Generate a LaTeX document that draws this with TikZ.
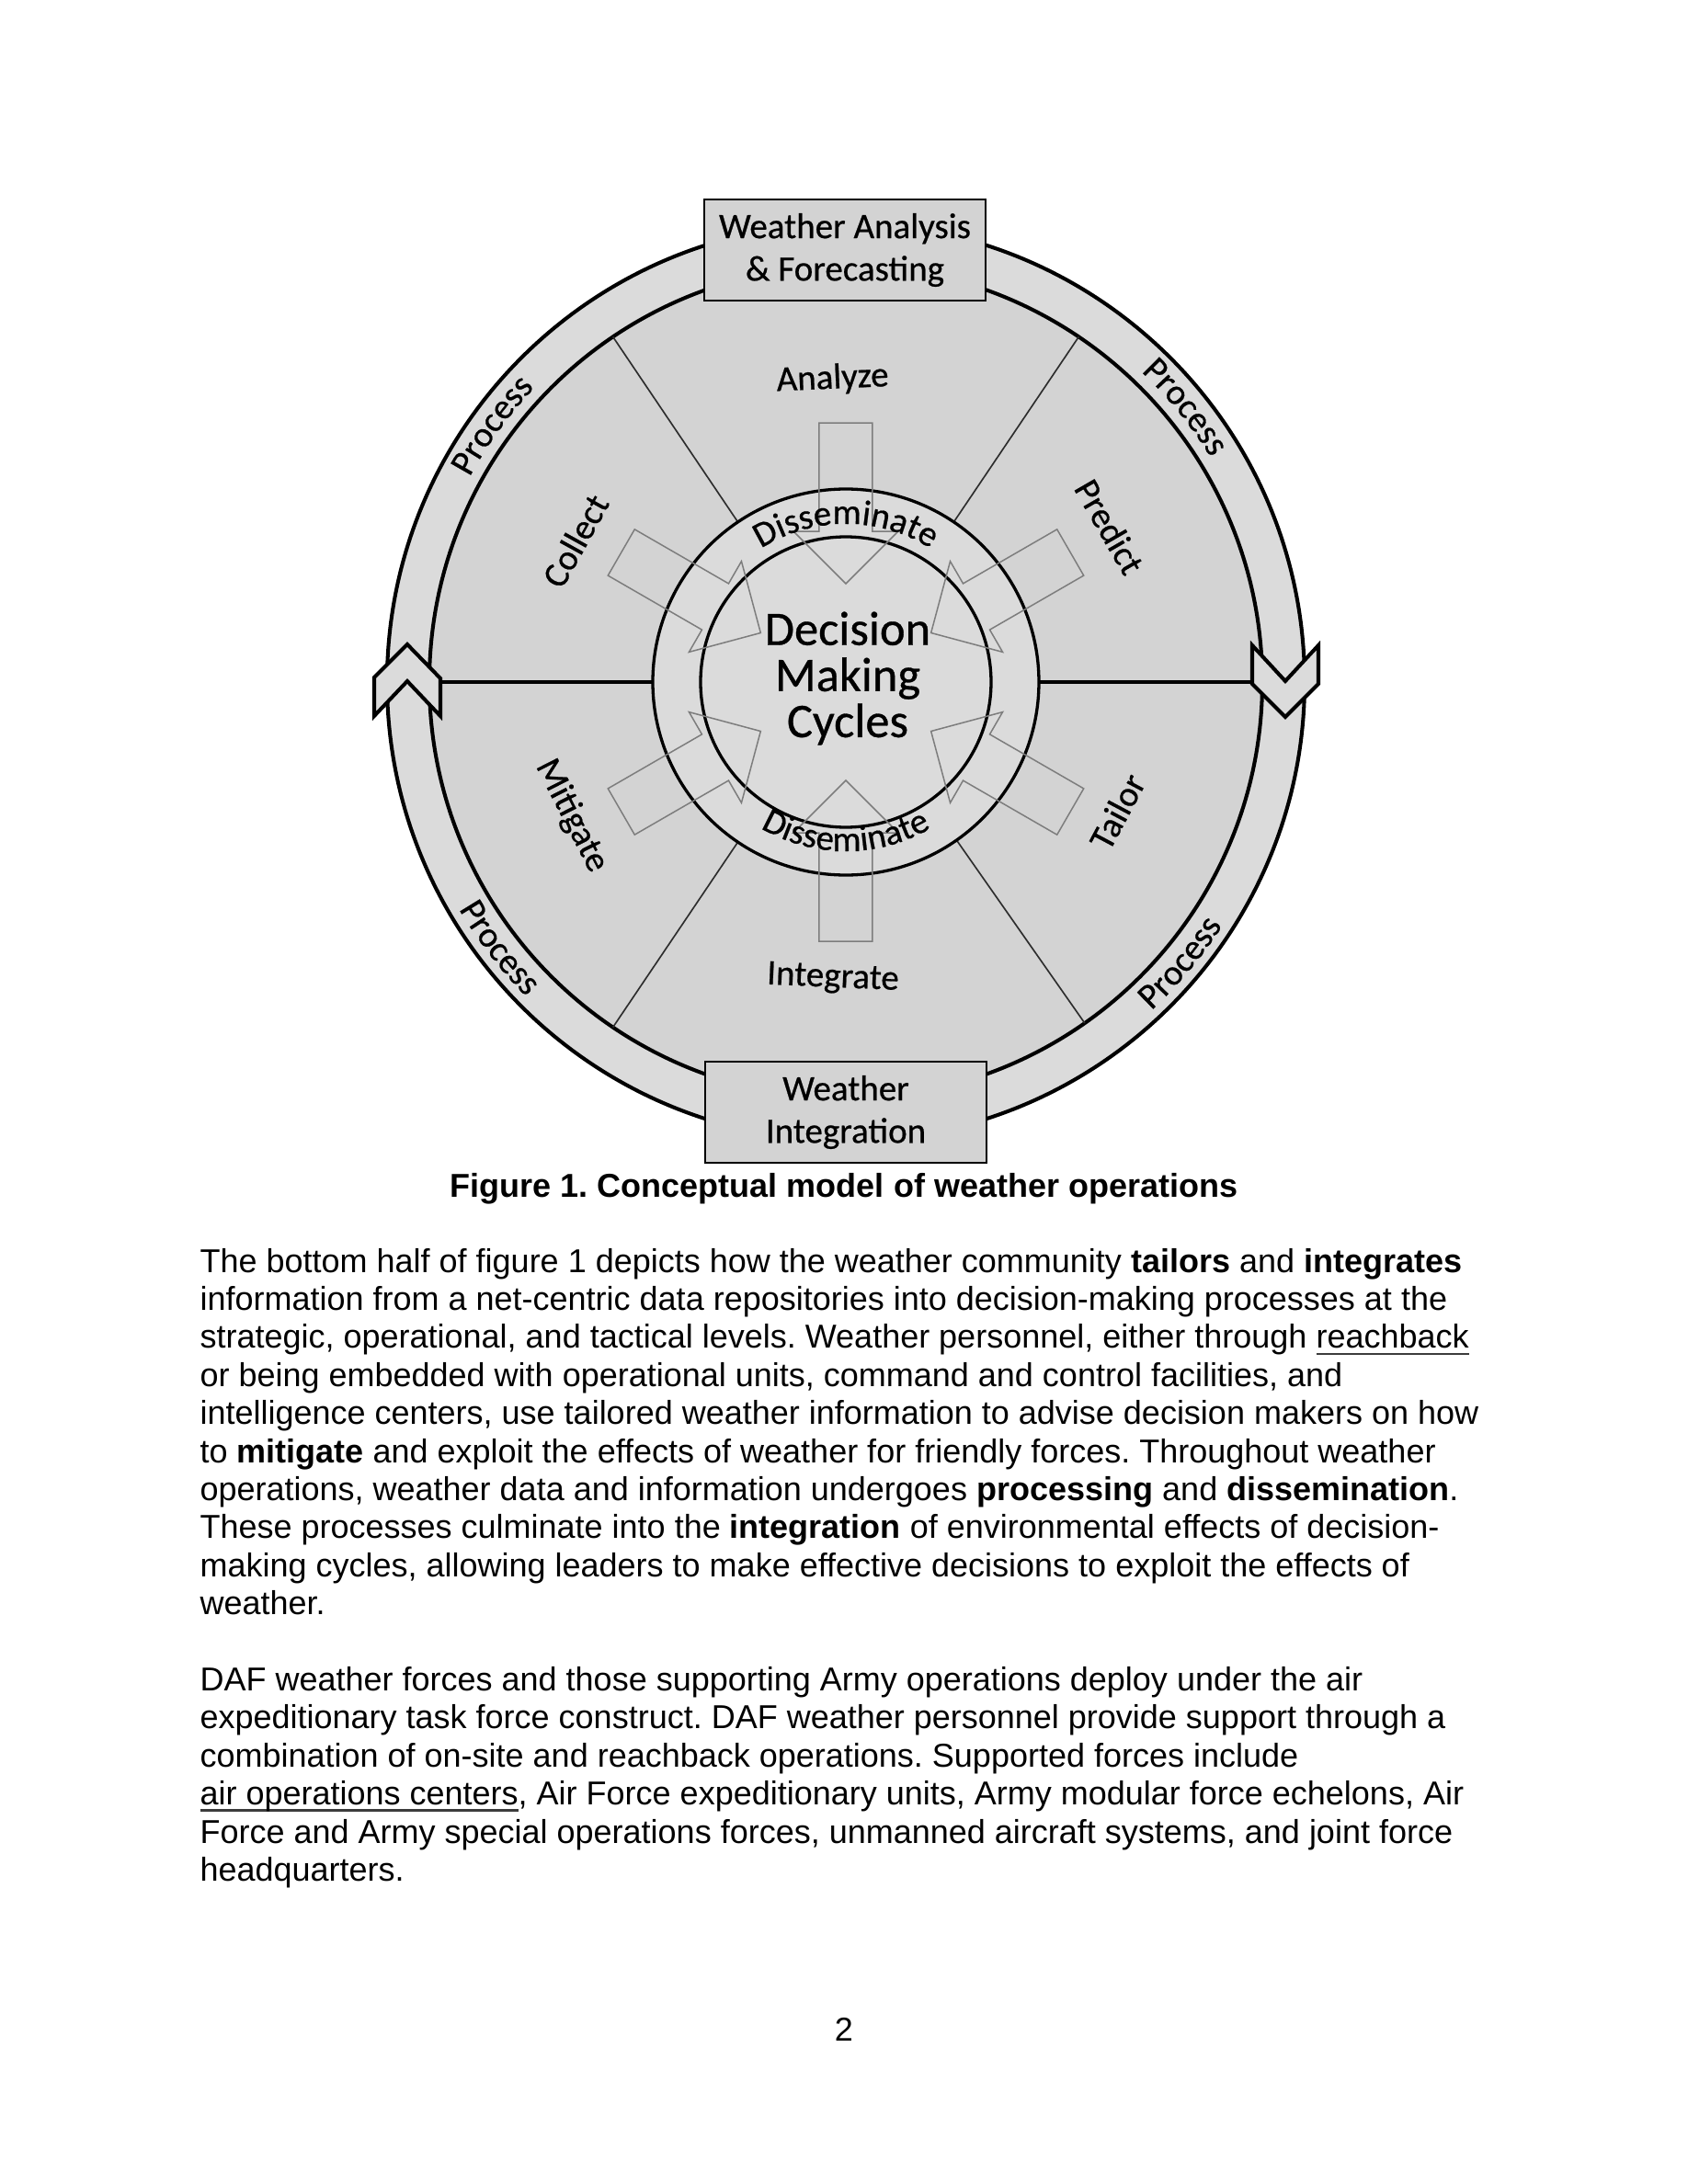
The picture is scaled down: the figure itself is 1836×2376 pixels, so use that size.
\documentclass[tikz,border=0pt]{standalone}
\usepackage{fontspec}
\setmainfont{Liberation Sans}
\newfontfamily\calfont{Carlito}[FakeBold=0.6]
\usetikzlibrary{decorations.text}
\definecolor{sectorgray}{RGB}{211,211,211}
\definecolor{bandgray}{RGB}{219,219,219}
\definecolor{arrowgray}{RGB}{125,125,125}
\definecolor{spokegray}{RGB}{45,45,45}
\definecolor{linkline}{RGB}{60,60,60}
\newcommand\lblfont{\calfont\fontsize{13}{15.6}\selectfont}
\newcommand\boxfont{\calfont\fontsize{13}{15.4}\selectfont}
\newcommand\dmcfont{\calfont\fontsize{17.5}{16.7}\selectfont}
\newcommand\bodyfont{\fontsize{12}{13.8}\selectfont\frenchspacing}
\newcommand\linkul[1]{\setbox0\hbox{#1}\rlap{\color{linkline}\rule[-2.3pt]{\wd0}{0.7pt}}\box0}
\begin{document}
\begin{tikzpicture}[x=0.33333pt,y=0.33333pt,
  ringline/.style={draw=black,line width=1.35pt},
  dmcline/.style={draw=black,line width=1.1pt},
  thinspoke/.style={draw=spokegray,line width=0.55pt},
  thickspoke/.style={draw=black,line width=1.35pt},
  blockarrow/.style={draw=arrowgray,line width=0.5pt,line join=miter},
  chevron/.style={draw=black,fill=bandgray,line width=1.35pt,line join=miter},
  stagebox/.style={draw=black,fill=sectorgray,line width=0.9pt,minimum width=102pt,minimum height=36.7pt,inner sep=0,align=center,font=\boxfont},
  sectorlabel/.style={inner sep=0,font=\lblfont},
  bodyline/.style={anchor=base west,inner sep=0,font=\bodyfont},
  curvedlabel/.style={decorate,decoration={text along path,text align=center,text={#1}}}
]
\useasboundingbox (-920,-1634) rectangle (916,742);
\fill[white] (-920,-1634) rectangle (916,742);

% outer band and sector disk
\coordinate (c) at (0,0);
\filldraw[ringline,fill=bandgray] (c) circle[radius=499];
\filldraw[ringline,fill=sectorgray] (c) circle[radius=453];

% spokes
\foreach \a/\n in {56/ur,124/ul,236/ll,305/lr}{
  \coordinate (so\n) at (\a:453);
  \coordinate (si\n) at (\a:210);
  \draw[thinspoke] (si\n) -- (so\n);
}
\coordinate (sor) at (0:453); \coordinate (sir) at (0:210);
\coordinate (sol) at (180:453); \coordinate (sil) at (180:210);
\draw[thickspoke] (sir) -- (sor);
\draw[thickspoke] (sil) -- (sol);

% decision ring
\filldraw[dmcline,fill=bandgray] (c) circle[radius=210];
\draw[dmcline] (c) circle[radius=158];

% block arrows pointing inward
\foreach \a in {30,90,150,210,270,330}{
  \draw[blockarrow,rotate=\a] (282,29) -- (164,29) -- (164,57) -- (107,0) -- (164,-57) -- (164,-29) -- (282,-29) -- cycle;
}

% centre text
\node[inner sep=0,align=center,font=\dmcfont] (dmc) at (2,4) {Decision\\Making\\Cycles};

% disseminate labels
\path[curvedlabel={|\lblfont|Disseminate}] (140:172) arc[start angle=140,end angle=40,radius=172];
\path[curvedlabel={|\lblfont|Disseminate}] (220:184) arc[start angle=220,end angle=320,radius=184];

% sector labels
\node[sectorlabel,rotate=2.5] (analyze) at (92.5:330) {Analyze};
\node[sectorlabel,rotate=-2.5] (integrate) at (267.5:323) {Integrate};
\node[sectorlabel,rotate=61] (collect) at (152.4:332) {Collect};
\node[sectorlabel,rotate=-60] (predict) at (30.5:333) {Predict};
\node[sectorlabel,rotate=-63] (mitigate) at (206:332) {Mitigate};
\node[sectorlabel,rotate=62] (tailor) at (334.5:327) {Tailor};

% process labels on outer band
\path[curvedlabel={|\lblfont|Process}] (164:466) arc[start angle=164,end angle=124,radius=466];
\path[curvedlabel={|\lblfont|Process}] (59:466) arc[start angle=59,end angle=19,radius=466];
\path[curvedlabel={|\lblfont|Process}] (197.5:488) arc[start angle=197.5,end angle=237.5,radius=488];
\path[curvedlabel={|\lblfont|Process}] (300:488) arc[start angle=300,end angle=340,radius=488];

% boxes
\node[stagebox] (waf) at (-1,470) {Weather Analysis\\\& Forecasting};
\node[stagebox] (wi) at (0,-468) {Weather\\Integration};

% chevrons
\draw[chevron] (-513,5) -- (-477,41) -- (-441,4) -- (-441,-37) -- (-477,1) -- (-513,-37) -- cycle;
\draw[chevron] (442,40) -- (478,1) -- (514,40) -- (514,-2) -- (478,-38) -- (442,-2) -- cycle;

% caption and body text
\node[anchor=base,inner sep=0,font=\bodyfont\bfseries] (cap) at (-2,-560) {Figure 1. Conceptual model of weather operations};

\node[bodyline] (p1) at (-703,-642) {The bottom half of figure 1 depicts how the weather community \textbf{tailors} and \textbf{integrates}};
\node[bodyline] (p2) at (-703,-683.4) {information from a net-centric data repositories into decision-making processes at the};
\node[bodyline] (p3) at (-703,-724.8) {strategic, operational, and tactical levels. Weather personnel, either through \linkul{reachback}};
\node[bodyline] (p4) at (-703,-766.2) {or being embedded with operational units, command and control facilities, and};
\node[bodyline] (p5) at (-703,-807.6) {intelligence centers, use tailored weather information to advise decision makers on how};
\node[bodyline] (p6) at (-703,-849) {to \textbf{mitigate} and exploit the effects of weather for friendly forces. Throughout weather};
\node[bodyline] (p7) at (-703,-890.4) {operations, weather data and information undergoes \textbf{processing} and \textbf{dissemination}.};
\node[bodyline] (p8) at (-703,-931.8) {These processes culminate into the \textbf{integration} of environmental effects of decision-};
\node[bodyline] (p9) at (-703,-973.2) {making cycles, allowing leaders to make effective decisions to exploit the effects of};
\node[bodyline] (p10) at (-703,-1014.6) {weather.};

\node[bodyline] (q1) at (-703,-1097.4) {DAF weather forces and those supporting Army operations deploy under the air};
\node[bodyline] (q2) at (-703,-1138.8) {expeditionary task force construct. DAF weather personnel provide support through a};
\node[bodyline] (q3) at (-703,-1180.2) {combination of on-site and reachback operations. Supported forces include};
\node[bodyline] (q4) at (-703,-1221.6) {\linkul{air operations centers}, Air Force expeditionary units, Army modular force echelons, Air};
\node[bodyline] (q5) at (-703,-1263) {Force and Army special operations forces, unmanned aircraft systems, and joint force};
\node[bodyline] (q6) at (-703,-1304.4) {headquarters.};

\node[anchor=base,inner sep=0,font=\bodyfont] (pg) at (-2,-1478) {2};
\end{tikzpicture}
\end{document}
